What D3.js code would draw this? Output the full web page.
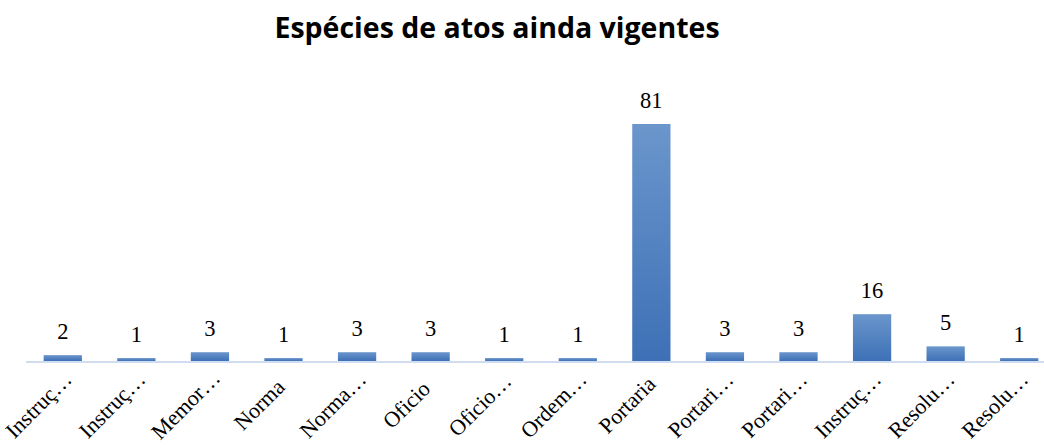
<!DOCTYPE html>
<html>
<head>
<meta charset="utf-8">
<script src="https://cdn.jsdelivr.net/npm/d3@7"></script>
<style>
  body { margin: 0; background: #fff; }
  svg { display: block; }
</style>
</head>
<body>
<svg id="chart" width="1044" height="448"></svg>
<script>
// categories as shown on the axis (Excel truncated them)
var categories = ["Instruç…", "Instruç… ", "Memor…", "Norma", "Norma…", "Oficio", "Oficio…",
                  "Ordem…", "Portaria", "Portari…", "Portari… ", "Instruç…  ", "Resolu…", "Resolu… "];
var values = [2, 1, 3, 1, 3, 3, 1, 1, 81, 3, 3, 16, 5, 1];
var title = "Espécies de atos ainda vigentes";

var svg = d3.select("#chart");
var baseY = 361;

var x = d3.scaleBand().domain(categories).range([26, 1056]).paddingInner(0.48).paddingOuter(0.24);
var y = d3.scaleLinear().domain([0, 81]).range([baseY, 124]);

// gradient for bars, lighter at top
var grad = svg.append("defs").append("linearGradient")
    .attr("id", "barGrad").attr("x1", 0).attr("y1", 0).attr("x2", 0).attr("y2", 1);
grad.append("stop").attr("offset", "0%").attr("stop-color", "#6b96cc");
grad.append("stop").attr("offset", "100%").attr("stop-color", "#3d70b6");

svg.append("text")
    .attr("x", 497).attr("y", 38)
    .attr("text-anchor", "middle")
    .style("font-family", "'Open Sans', sans-serif")
    .style("font-weight", "bold")
    .style("font-size", "28.5px")
    .text(title);

svg.selectAll("rect.bar").data(values).enter().append("rect")
    .attr("class", "bar")
    .attr("x", function(d, i) { return x(categories[i]); })
    .attr("width", x.bandwidth())
    .attr("y", function(d) { return y(d); })
    .attr("height", function(d) { return baseY - y(d); })
    .attr("fill", "url(#barGrad)");

// axis line
svg.append("line")
    .attr("x1", 26).attr("x2", 1044).attr("y1", baseY + 1).attr("y2", baseY + 1)
    .attr("stroke", "#d0dcef").attr("stroke-width", 2);

// value labels
svg.selectAll("text.val").data(values).enter().append("text")
    .attr("class", "val")
    .attr("x", function(d, i) { return x(categories[i]) + x.bandwidth() / 2; })
    .attr("y", function(d) { return y(d) - 16; })
    .attr("text-anchor", "middle")
    .style("font-family", "'Liberation Serif', 'Times New Roman', serif")
    .style("font-size", "22.5px")
    .text(function(d) { return d; });

// rotated category labels
svg.selectAll("text.cat").data(categories).enter().append("text")
    .attr("class", "cat")
    .attr("text-anchor", "middle")
    .attr("transform", function(d) {
        var cx = x(d) + x.bandwidth() / 2;
        return "translate(" + (cx - 19) + "," + 410 + ") rotate(-45)";
    })
    .style("font-family", "'Liberation Serif', 'Times New Roman', serif")
    .style("font-size", "22px")
    .text(function(d) { return d.trim(); });
</script>
</body>
</html>
